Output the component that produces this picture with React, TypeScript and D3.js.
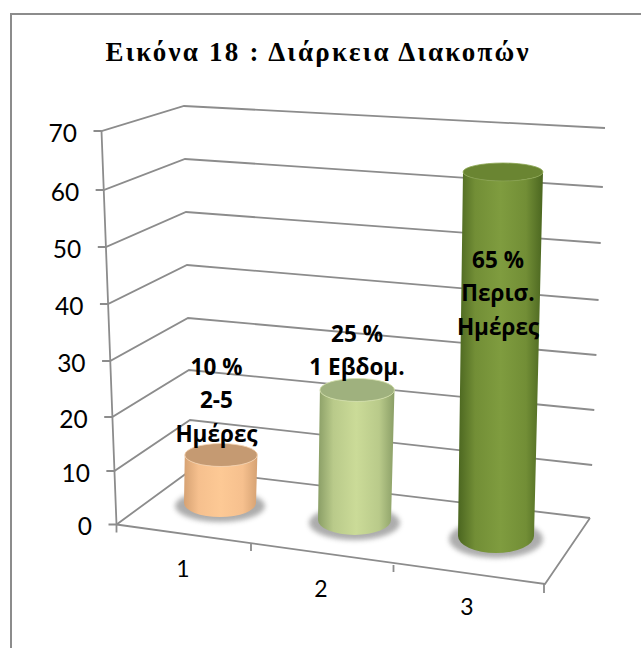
import React from "react";
import * as d3 from "d3";

const title = "Εικόνα 18 : Διάρκεια Διακοπών";
const yTicks = [0, 10, 20, 30, 40, 50, 60, 70];
const categories = [1, 2, 3];
const values = [10, 25, 65];
const labels = [["10 %", "2-5", "Ημέρες"], ["25 %", "1 Εβδομ."], ["65 %", "Περισ.", "Ημέρες"]];
const palettes = [
  { edge: "#d6a273", soft: "#f6c08e", mid: "#fdc995", top: "#c59a72", rim: "#f8d3ae" },
  { edge: "#8a9e66", soft: "#b9ca8a", mid: "#cbdb98", top: "#9fb17e", rim: "#d3dfa8" },
  { edge: "#4b6620", soft: "#728e36", mid: "#7f9c3f", top: "#6a8532", rim: "#8aa550" },
];

const S = "#8c8c8c";
const frontX = d3.scaleLinear().domain([0, 70]).range([116.5, 101.5]);
const frontY = d3.scaleLinear().domain(yTicks).range([524.5, 471, 417, 361, 304, 247, 190, 131]);
const cornerX = d3.scaleLinear().domain([0, 70]).range([191, 184]);
const cornerY = d3.scaleLinear().domain(yTicks).range([470, 420, 370, 318, 265, 212, 159, 106]);
const rightX = d3.scaleLinear().domain([0, 70]).range([590, 605]);
const rightY = d3.scaleLinear().domain(yTicks).range([518, 465, 410, 355, 300, 243, 187, 128]);

const barL = d3.scaleLinear().domain([1, 2, 3]).range([184, 318, 458]);
const barR = d3.scaleLinear().domain([1, 2, 3]).range([256, 391, 534]);
const baseY = d3.scaleLinear().domain([1, 2, 3]).range([503, 520, 536]);
const baseRy = d3.scaleLinear().domain([1, 2, 3]).range([14, 15, 17]);
const topRy = d3.scaleLinear().domain([10, 25, 65]).range([11.5, 11.5, 9]);
const barH = d3.scaleLinear().domain([0, 10, 25, 65]).range([0, 48, 130, 364]);
const topLeftShift = d3.scaleLinear().domain([0, 65]).range([0, 5]);
const topRightShift = d3.scaleLinear().domain([0, 65]).range([0, 9]);
const catX = d3.scaleLinear().domain([1, 2, 3]).range([183, 321, 467]);
const catY = d3.scaleLinear().domain([1, 2, 3]).range([577, 597, 615]);
const labelX = [216.5, 357, 498];
const labelY = [375, 342, 268];

export default function App() {
  return (
    <svg width={641} height={648} style={{ position: "absolute", left: 0, top: 0, background: "#fff" }}>
      <defs>
        {palettes.map((p, i) => (
          <linearGradient key={i} id={`g${i}`} x1="0" x2="1" y1="0" y2="0">
            <stop offset="0" stopColor={p.edge} />
            <stop offset="0.2" stopColor={p.soft} />
            <stop offset="0.5" stopColor={p.mid} />
            <stop offset="0.8" stopColor={p.soft} />
            <stop offset="1" stopColor={p.edge} />
          </linearGradient>
        ))}
        <filter id="blur" x="-20%" y="-40%" width="140%" height="180%">
          <feGaussianBlur stdDeviation="2.5" />
        </filter>
      </defs>
      <path d="M11 648V14H641" fill="none" stroke="#8c8c8c" strokeWidth={2} />
      <text x={317} y={61} textAnchor="middle" fontFamily="'Liberation Serif'" fontWeight="bold" fontSize={27} fill="#000" textLength={423} lengthAdjust="spacing">{title}</text>

      {yTicks.map((t) => (
        <g key={t}>
          <path
            d={`M${frontX(t) - 8} ${frontY(t)}H${frontX(t)}L${cornerX(t)} ${cornerY(t)}L${rightX(t)} ${rightY(t)}`}
            fill="none" stroke={S} strokeWidth={1.8}
          />
          <text x={frontX(t) - 24.5} y={frontY(t) + 10.5} textAnchor="end" fontFamily="Lato" fontSize={24.5} fill="#000">{t}</text>
        </g>
      ))}
      <path d={`M${frontX(70)} ${frontY(70)}L${frontX(0)} ${frontY(0)}V${frontY(0) + 8}`} fill="none" stroke={S} strokeWidth={1.8} />
      <path d={`M${frontX(0)} ${frontY(0)}L545 584L${rightX(0)} ${rightY(0)}`} fill="none" stroke={S} strokeWidth={1.8} />
      <path d="M251 544v7M393.500 565v7M544 584v9" fill="none" stroke={S} strokeWidth={1.8} />
      {categories.map((c) => (
        <text key={c} x={catX(c)} y={catY(c)} textAnchor="middle" fontFamily="Lato" fontSize={23} fill="#000">{c}</text>
      ))}

      {categories.map((c, i) => {
        const l = barL(c), r = barR(c), by = baseY(c), bry = baseRy(c);
        const val = values[i];
        const h = barH(val), try_ = topRy(val);
        const tl = l + topLeftShift(val), tr = r + topRightShift(val);
        const ty = by - h;
        const d = `M${tl} ${ty}A${(tr - tl) / 2} ${try_} 0 0 0 ${tr} ${ty}` +
          `L${r} ${by}A${(r - l) / 2} ${bry} 0 0 1 ${l} ${by}Z`;
        const p = palettes[i];
        return (
          <g key={c}>
            <ellipse cx={(l + r) / 2} cy={by + 3} rx={(r - l) / 2 + 9} ry={bry + 2} fill="#8a8a8a" opacity={0.7} filter="url(#blur)" />
            <path d={d} fill={`url(#g${i})`} />
            <ellipse cx={(tl + tr) / 2} cy={ty} rx={(tr - tl) / 2} ry={try_} fill={p.top} stroke={p.rim} strokeWidth={0.8} />
          </g>
        );
      })}

      {labels.map((ls, i) => (
        <g key={i}>
          {ls.map((s, j) => (
            <text key={j} x={labelX[i]} y={labelY[i] + j * 33.3} textAnchor="middle"
              fontFamily="'Open Sans'" fontWeight="bold" fontSize={22.5} fill="#000">{s}</text>
          ))}
        </g>
      ))}
    </svg>
  );
}
